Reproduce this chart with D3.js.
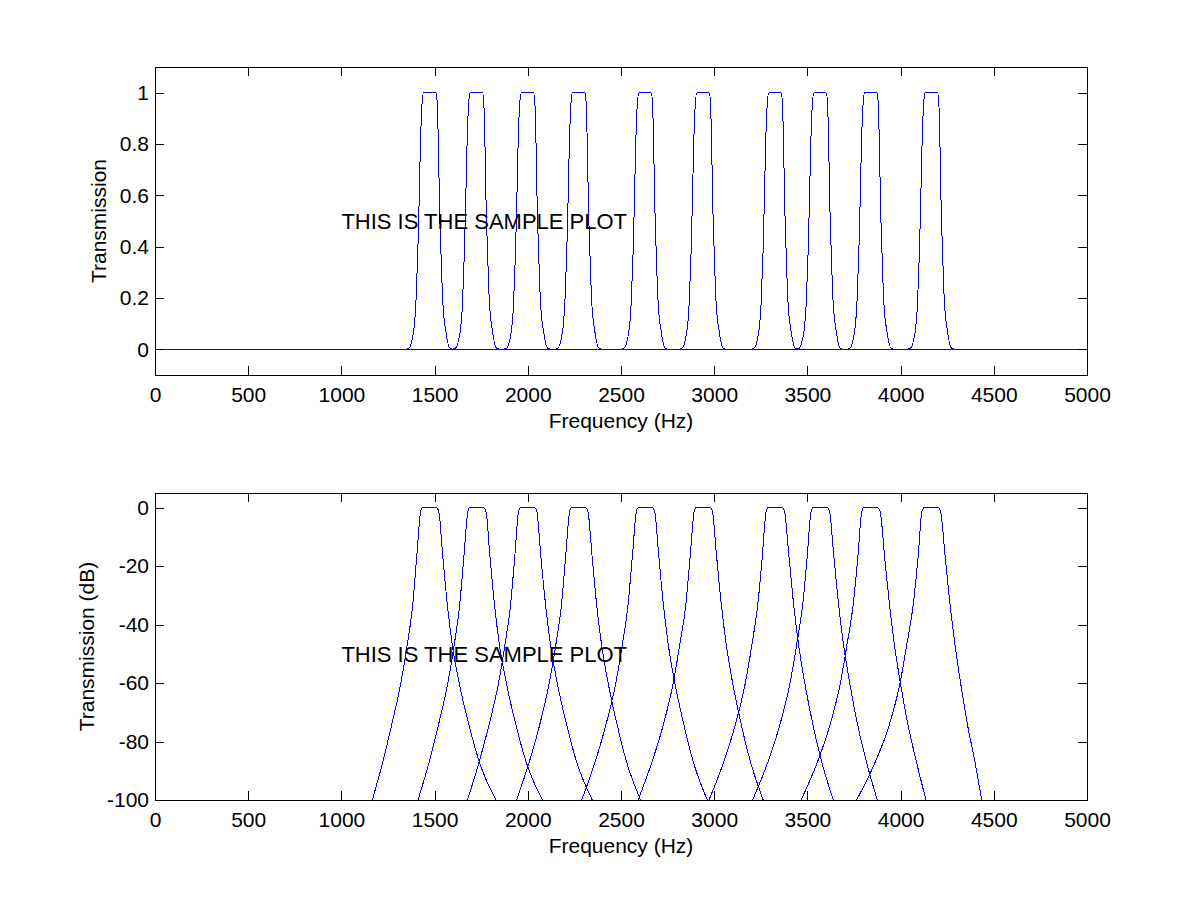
<!DOCTYPE html>
<html>
<head>
<meta charset="utf-8">
<script src="https://cdn.jsdelivr.net/npm/d3@7"></script>
<style>
  body { margin: 0; background: #fff; }
  svg text { font-family: "Liberation Sans", Arial, Helvetica, sans-serif; fill: #000; }
</style>
</head>
<body>
<svg width="1200" height="900"></svg>
<script>
// ---- data ----
var xTicks = [0, 500, 1000, 1500, 2000, 2500, 3000, 3500, 4000, 4500, 5000];
var linTicks = [0, 0.2, 0.4, 0.6, 0.8, 1];
var dbTicks = [-100, -80, -60, -40, -20, 0];

var noteText = "THIS IS THE SAMPLE PLOT";
var noteTop = [1000, 0.5];
var noteBottom = [1000, -50];

// top panel: transmission levels, shared by every filter
var linLevels = [0, 0, 0.003, 0.068, 0.185, 0.38, 0.575, 0.77, 0.96, 1,
                 1, 0.96, 0.77, 0.575, 0.38, 0.185, 0.068, 0.003, 0, 0];
// frequencies (Hz) where each filter passes through those levels
var linFreqs = [
  [0, 1336, 1360, 1387, 1400, 1410, 1417, 1423, 1433, 1441, 1507, 1514, 1521, 1526, 1534, 1544, 1561, 1584, 1610, 5000],
  [0, 1586, 1610, 1637, 1650, 1660, 1667, 1673, 1683, 1691, 1757, 1764, 1771, 1776, 1784, 1794, 1811, 1834, 1860, 5000],
  [0, 1860, 1884, 1911, 1924, 1934, 1941, 1947, 1957, 1965, 2031, 2038, 2045, 2050, 2058, 2068, 2085, 2108, 2134, 5000],
  [0, 2135, 2159, 2186, 2199, 2209, 2216, 2222, 2232, 2240, 2306, 2313, 2320, 2325, 2333, 2343, 2360, 2383, 2409, 5000],
  [0, 2491, 2515, 2542, 2555, 2565, 2572, 2578, 2588, 2596, 2662, 2669, 2676, 2681, 2689, 2699, 2716, 2739, 2765, 5000],
  [0, 2802, 2826, 2853, 2866, 2876, 2883, 2889, 2899, 2907, 2973, 2980, 2987, 2992, 3000, 3010, 3027, 3050, 3076, 5000],
  [0, 3188, 3212, 3239, 3252, 3262, 3269, 3275, 3285, 3293, 3359, 3366, 3373, 3378, 3386, 3396, 3413, 3436, 3462, 5000],
  [0, 3430, 3454, 3481, 3494, 3504, 3511, 3517, 3527, 3535, 3601, 3608, 3615, 3620, 3628, 3638, 3655, 3678, 3704, 5000],
  [0, 3702, 3726, 3753, 3766, 3776, 3783, 3789, 3799, 3807, 3873, 3880, 3887, 3892, 3900, 3910, 3927, 3950, 3976, 5000],
  [0, 4027, 4051, 4078, 4091, 4101, 4108, 4114, 4124, 4132, 4198, 4205, 4212, 4217, 4225, 4235, 4252, 4275, 4301, 5000]
];

// bottom panel: dB levels, shared by every filter
var dbLevels = [-100, -87, -75, -60, -47, -33, -16, -1.5, 0,
                0, -1.5, -16, -33, -47, -60, -75, -87, -100];
var dbFreqs = [
  [1166, 1222, 1267, 1319, 1353, 1383, 1405, 1425, 1434, 1510, 1523, 1543, 1568, 1595, 1632, 1687, 1740, 1829],
  [1411, 1471, 1518, 1571, 1605, 1635, 1658, 1678, 1687, 1763, 1776, 1796, 1821, 1848, 1885, 1939, 1991, 2078],
  [1676, 1739, 1789, 1843, 1877, 1908, 1931, 1950, 1960, 2036, 2049, 2069, 2095, 2122, 2158, 2211, 2262, 2346],
  [1940, 2008, 2061, 2115, 2150, 2181, 2204, 2224, 2234, 2310, 2323, 2344, 2369, 2396, 2431, 2482, 2530, 2605],
  [2289, 2361, 2416, 2472, 2507, 2538, 2562, 2582, 2592, 2668, 2681, 2702, 2727, 2754, 2789, 2840, 2888, 2963],
  [2592, 2666, 2724, 2780, 2815, 2848, 2872, 2892, 2902, 2978, 2991, 3012, 3038, 3065, 3099, 3148, 3195, 3263],
  [2972, 3051, 3110, 3167, 3202, 3234, 3259, 3278, 3289, 3365, 3378, 3400, 3426, 3453, 3486, 3532, 3577, 3639],
  [3206, 3288, 3349, 3407, 3442, 3475, 3500, 3519, 3530, 3606, 3619, 3641, 3667, 3694, 3727, 3772, 3817, 3875],
  [3466, 3554, 3618, 3677, 3712, 3746, 3772, 3791, 3802, 3878, 3891, 3913, 3940, 3967, 3999, 4042, 4085, 4136],
  [3764, 3864, 3936, 3997, 4033, 4068, 4095, 4114, 4126, 4202, 4215, 4238, 4265, 4292, 4322, 4361, 4399, 4435]
];

// ---- layout ----
var fontSize = 21;
var left = 155, right = 1087;
var panels = [
  {top: 67, bottom: 375, domain: [-0.1, 1.1], ticks: linTicks, freqs: linFreqs, levels: linLevels,
   ylabel: "Transmission", ylabelX: 106, note: noteTop, id: "clipTop"},
  {top: 493, bottom: 800, domain: [-100, 5], ticks: dbTicks, freqs: dbFreqs, levels: dbLevels,
   ylabel: "Transmission (dB)", ylabelX: 94, note: noteBottom, id: "clipBottom"}
];

var svg = d3.select("svg");
var defs = svg.append("defs");

var xScale = d3.scaleLinear().domain([0, 5000]).range([left, right]);

panels.forEach(function(p) {
  var yScale = d3.scaleLinear().domain(p.domain).range([p.bottom, p.top]);
  var g = svg.append("g");

  defs.append("clipPath").attr("id", p.id)
    .append("rect")
    .attr("x", left).attr("y", p.top)
    .attr("width", right - left).attr("height", p.bottom - p.top);

  // curves
  var line = d3.line()
    .x(d => xScale(d[0]))
    .y(d => yScale(d[1]))
    .curve(d3.curveMonotoneX);

  g.append("g")
    .attr("clip-path", "url(#" + p.id + ")")
    .selectAll("path")
    .data(p.freqs)
    .enter()
    .append("path")
    .attr("d", f => line(f.map((v, i) => [v, p.levels[i]])))
    .attr("fill", "none")
    .attr("stroke", "#0000ff")
    .attr("stroke-width", 1)
    .attr("shape-rendering", "crispEdges");

  // axes, ticks pointing inward like matlab
  var xAxis = d3.axisBottom(xScale).tickValues(xTicks).tickSizeInner(-9).tickSizeOuter(0).tickPadding(12)
    .tickFormat(d => String(d));
  var xAxisTop = d3.axisTop(xScale).tickValues(xTicks).tickSizeInner(-9).tickSizeOuter(0).tickFormat("");
  var yAxis = d3.axisLeft(yScale).tickValues(p.ticks).tickSizeInner(-9).tickSizeOuter(0).tickPadding(6)
    .tickFormat(d => String(+d.toFixed(1)));
  var yAxisRight = d3.axisRight(yScale).tickValues(p.ticks).tickSizeInner(-9).tickSizeOuter(0).tickFormat("");

  g.append("g").attr("transform", "translate(0," + p.bottom + ")").call(xAxis);
  g.append("g").attr("transform", "translate(0," + p.top + ")").call(xAxisTop);
  g.append("g").attr("transform", "translate(" + left + ",0)").call(yAxis);
  g.append("g").attr("transform", "translate(" + right + ",0)").call(yAxisRight);

  g.selectAll(".domain").remove();
  g.selectAll(".tick line").attr("stroke", "#000").attr("shape-rendering", "crispEdges");
  g.selectAll(".tick text").attr("font-size", fontSize).attr("fill", "#000");

  g.append("rect")
    .attr("x", left).attr("y", p.top)
    .attr("width", right - left).attr("height", p.bottom - p.top)
    .attr("fill", "none").attr("stroke", "#000").attr("stroke-width", 1)
    .attr("shape-rendering", "crispEdges");

  // labels
  g.append("text")
    .attr("x", (left + right) / 2)
    .attr("y", p.bottom + 53)
    .attr("text-anchor", "middle")
    .attr("font-size", fontSize)
    .text("Frequency (Hz)");

  g.append("text")
    .attr("transform", "translate(" + p.ylabelX + "," + (p.top + p.bottom) / 2 + ") rotate(-90)")
    .attr("text-anchor", "middle")
    .attr("font-size", fontSize)
    .text(p.ylabel);

  g.append("text")
    .attr("x", xScale(p.note[0]))
    .attr("y", yScale(p.note[1]))
    .attr("dy", "0.36em")
    .attr("font-size", 22)
    .text(noteText);
});
</script>
</body>
</html>
